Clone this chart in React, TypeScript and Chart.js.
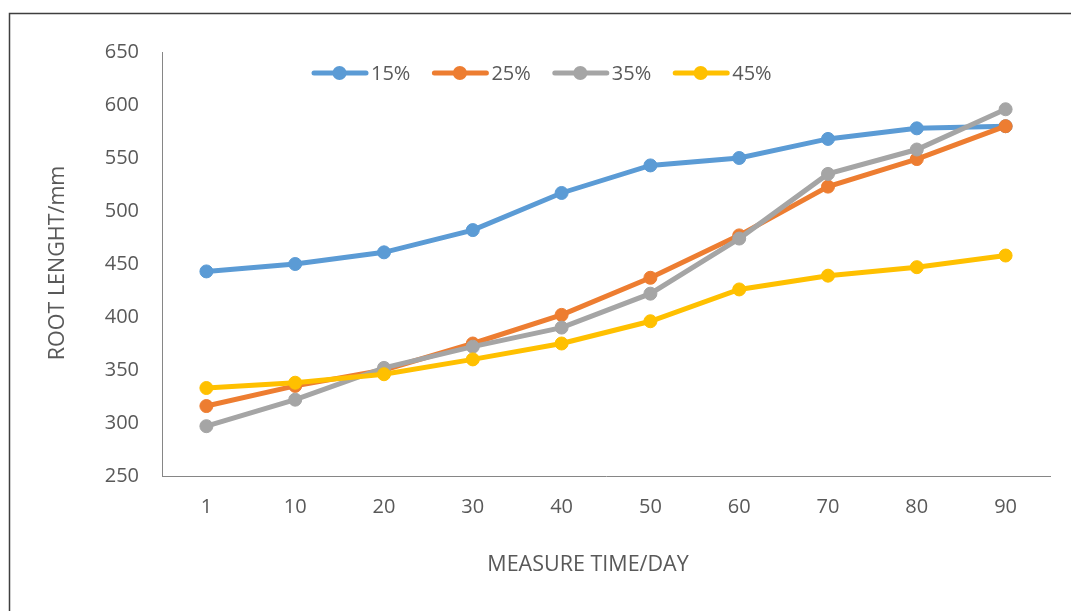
import React, { useEffect, useRef } from "react";
import { Chart, registerables } from "chart.js";

Chart.register(...registerables);

// Measurement days (x categories)
const days = ["1", "10", "20", "30", "40", "50", "60", "70", "80", "90"];

// Root length (mm) per moisture level
const root15 = [443, 450, 461, 482, 517, 543, 550, 568, 578, 580];
const root25 = [316, 335, 350, 375, 402, 437, 477, 523, 549, 580];
const root35 = [297, 322, 352, 372, 390, 422, 474, 535, 558, 596];
const root45 = [333, 338, 346, 360, 375, 396, 426, 439, 447, 458];

const seriesLabels = ["15%", "25%", "35%", "45%"];
const seriesColors = ["#5B9BD5", "#ED7D31", "#A5A5A5", "#FFC000"];

const yMin = 250;
const yMax = 650;
const yStep = 50;

const xTitle = "MEASURE TIME/DAY";
const yTitle = "ROOT LENGHT/mm";

const FONT = "'Open Sans', 'DejaVu Sans', sans-serif";
const TEXT = "#595959";

// Outer frame, axis titles and the line-with-marker legend
const decorPlugin = {
  id: "decor",
  beforeDraw(chart: any) {
    const { ctx, width, height } = chart;
    ctx.save();
    ctx.fillStyle = "#ffffff";
    ctx.fillRect(0, 0, width, height);
    ctx.strokeStyle = "#3f3f3f";
    ctx.lineWidth = 1.5;
    ctx.beginPath();
    ctx.moveTo(9.5, height);
    ctx.lineTo(9.5, 13.5);
    ctx.lineTo(width, 13.5);
    ctx.stroke();
    ctx.restore();
  },
  afterDraw(chart: any) {
    const { ctx } = chart;
    ctx.save();
    ctx.fillStyle = TEXT;
    ctx.font = `21.5px ${FONT}`;
    ctx.textAlign = "center";
    ctx.textBaseline = "middle";
    ctx.fillText(xTitle, 588, 565);
    ctx.save();
    ctx.translate(58, 263);
    ctx.rotate(-Math.PI / 2);
    ctx.fillText(yTitle, 0, 0);
    ctx.restore();

    // legend
    ctx.font = `20px ${FONT}`;
    let x = 312;
    const y = 73;
    ctx.textAlign = "left";
    chart.data.datasets.forEach((ds: any) => {
      ctx.strokeStyle = ds.borderColor;
      ctx.lineWidth = 5;
      ctx.lineCap = "round";
      ctx.beginPath();
      ctx.moveTo(x + 2, y);
      ctx.lineTo(x + 54, y);
      ctx.stroke();
      ctx.fillStyle = ds.borderColor;
      ctx.beginPath();
      ctx.arc(x + 27.5, y, 7, 0, Math.PI * 2);
      ctx.fill();
      ctx.fillStyle = TEXT;
      ctx.fillText(ds.label, x + 59, y + 1);
      x += 59 + ctx.measureText(ds.label).width + 22;
    });
    ctx.restore();
  },
};

export default function App() {
  const ref = useRef<HTMLCanvasElement | null>(null);

  useEffect(() => {
    if (!ref.current) return;
    const values = [root15, root25, root35, root45];
    const chart = new Chart(ref.current, {
      type: "line",
      data: {
        labels: days,
        datasets: values.map((v, i) => ({
          label: seriesLabels[i],
          data: v,
          borderColor: seriesColors[i],
          backgroundColor: seriesColors[i],
          pointBackgroundColor: seriesColors[i],
          pointBorderColor: seriesColors[i],
          borderWidth: 5,
          pointRadius: 6.5,
          pointBorderWidth: 1,
          pointHoverRadius: 6.5,
          tension: 0,
          order: values.length - i,
        })),
      },
      options: {
        responsive: false,
        animation: false,
        devicePixelRatio: 1,
        layout: { padding: { left: 0, right: 21, top: 52, bottom: 0 } },
        plugins: {
          legend: { display: false },
          tooltip: { enabled: false },
        },
        scales: {
          x: {
            offset: true,
            grid: { display: false, drawTicks: false },
            border: { display: true, color: "#868686", width: 1 },
            ticks: {
              color: TEXT,
              font: { family: FONT, size: 20 },
              padding: 19,
              maxRotation: 0,
            },
            afterFit(scale: any) {
              scale.height = 135;
            },
          },
          y: {
            min: yMin,
            max: yMax,
            grid: { display: false, drawTicks: false },
            border: { display: true, color: "#868686", width: 1 },
            ticks: {
              stepSize: yStep,
              color: TEXT,
              font: { family: FONT, size: 20 },
              padding: 23,
            },
            afterFit(scale: any) {
              scale.width = 162;
            },
          },
        },
      },
      plugins: [decorPlugin],
    });
    return () => chart.destroy();
  }, []);

  return (
    <div style={{ position: "fixed", left: 0, top: 0, width: 1071, height: 611, background: "#fff" }}>
      <canvas ref={ref} width={1071} height={611} style={{ display: "block" }} />
    </div>
  );
}
